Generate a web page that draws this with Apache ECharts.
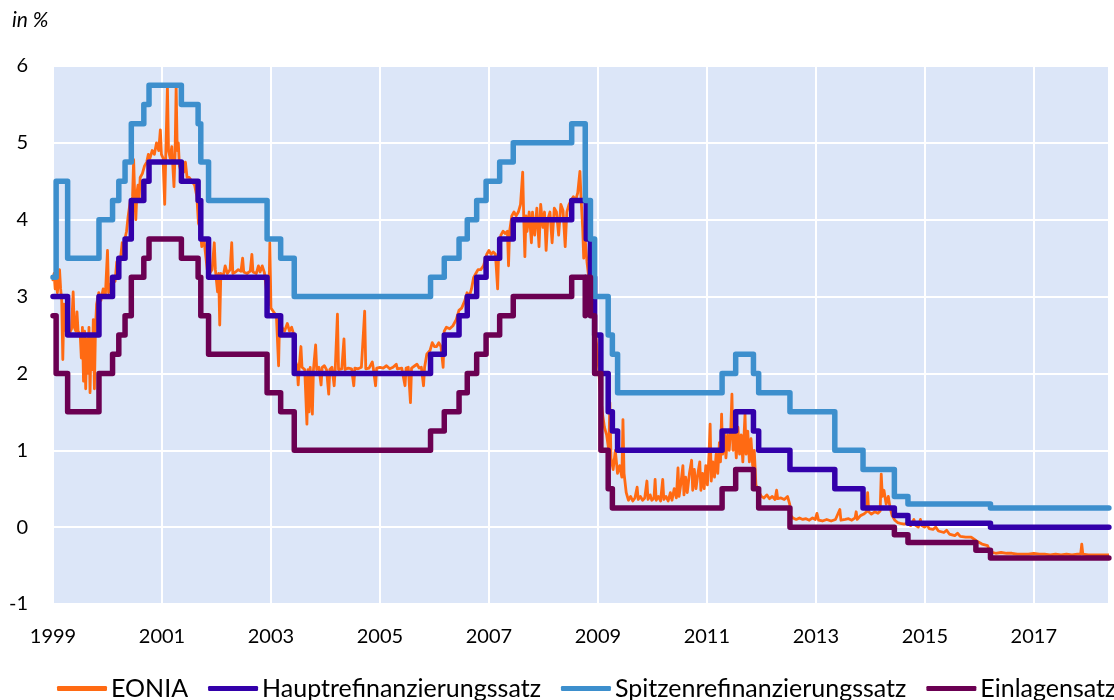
<!DOCTYPE html>
<html>
<head>
<meta charset="utf-8">
<script src="https://cdn.jsdelivr.net/npm/echarts@6/dist/echarts.min.js"></script>
<style>
html,body{margin:0;padding:0;background:#fff;}
#chart{width:1114px;height:700px;}
</style>
</head>
<body>
<div id="chart"></div>
<script>
// ---- Data ----
const startYear = 1999;
const endYear = 2018.38;
const xTickLabels = ['1999','2001','2003','2005','2007','2009','2011','2013','2015','2017'];
const seriesNames = ['EONIA','Hauptrefinanzierungssatz','Spitzenrefinanzierungssatz','Einlagensatz'];

// Hauptrefinanzierungssatz (change dates and new rates)
const mroDates = ['1999-01-01','1999-04-09','1999-11-05','2000-02-04','2000-03-17','2000-04-28','2000-06-09','2000-09-01','2000-10-06','2001-05-11','2001-08-31','2001-09-18','2001-11-09','2002-12-06','2003-03-07','2003-06-06','2005-12-06','2006-03-08','2006-06-15','2006-08-09','2006-10-11','2006-12-13','2007-03-14','2007-06-13','2008-07-09','2008-10-15','2008-11-12','2008-12-10','2009-01-21','2009-03-11','2009-04-08','2009-05-13','2011-04-13','2011-07-13','2011-11-09','2011-12-14','2012-07-11','2013-05-08','2013-11-13','2014-06-11','2014-09-10','2016-03-16','2018-05-19'];
const mroValues = [3.00,2.50,3.00,3.25,3.50,3.75,4.25,4.50,4.75,4.50,4.25,3.75,3.25,2.75,2.50,2.00,2.25,2.50,2.75,3.00,3.25,3.50,3.75,4.00,4.25,3.75,3.25,2.50,2.00,1.50,1.25,1.00,1.25,1.50,1.25,1.00,0.75,0.50,0.25,0.15,0.05,0.00,0.00];

// Spitzenrefinanzierungssatz
const slfDates = ['1999-01-01','1999-01-22','1999-04-09','1999-11-05','2000-02-04','2000-03-17','2000-04-28','2000-06-09','2000-09-01','2000-10-06','2001-05-11','2001-08-31','2001-09-18','2001-11-09','2002-12-06','2003-03-07','2003-06-06','2005-12-06','2006-03-08','2006-06-15','2006-08-09','2006-10-11','2006-12-13','2007-03-14','2007-06-13','2008-07-09','2008-10-08','2008-10-09','2008-11-12','2008-12-10','2009-03-11','2009-04-08','2009-05-13','2011-04-13','2011-07-13','2011-11-09','2011-12-14','2012-07-11','2013-05-08','2013-11-13','2014-06-11','2014-09-10','2016-03-16','2018-05-19'];
const slfValues = [3.25,4.50,3.50,4.00,4.25,4.50,4.75,5.25,5.50,5.75,5.50,5.25,4.75,4.25,3.75,3.50,3.00,3.25,3.50,3.75,4.00,4.25,4.50,4.75,5.00,5.25,4.75,4.25,3.75,3.00,2.50,2.25,1.75,2.00,2.25,2.00,1.75,1.50,1.00,0.75,0.40,0.30,0.25,0.25];

// Einlagensatz
const depDates = ['1999-01-01','1999-01-22','1999-04-09','1999-11-05','2000-02-04','2000-03-17','2000-04-28','2000-06-09','2000-09-01','2000-10-06','2001-05-11','2001-08-31','2001-09-18','2001-11-09','2002-12-06','2003-03-07','2003-06-06','2005-12-06','2006-03-08','2006-06-15','2006-08-09','2006-10-11','2006-12-13','2007-03-14','2007-06-13','2008-07-09','2008-10-08','2008-10-09','2008-11-12','2008-12-10','2009-01-21','2009-03-11','2009-04-08','2011-04-13','2011-07-13','2011-11-09','2011-12-14','2012-07-11','2014-06-11','2014-09-10','2015-12-09','2016-03-16','2018-05-19'];
const depValues = [2.75,2.00,1.50,2.00,2.25,2.50,2.75,3.25,3.50,3.75,3.50,3.25,2.75,2.25,1.75,1.50,1.00,1.25,1.50,1.75,2.00,2.25,2.50,2.75,3.00,3.25,2.75,3.25,2.75,2.00,1.00,0.50,0.25,0.50,0.75,0.50,0.25,0.00,-0.10,-0.20,-0.30,-0.40,-0.40];

// EONIA (decimal year, rate)
const eoniaPoints = [
[1999.00,3.20],[1999.02,3.30],[1999.04,3.10],[1999.06,3.25],[1999.08,3.05],[1999.10,3.20],[1999.12,3.35],[1999.14,3.10],[1999.16,2.95],[1999.18,2.18],[1999.20,2.90],[1999.22,2.70],[1999.24,2.55],[1999.28,2.60],[1999.30,2.52],[1999.34,2.58],[1999.37,3.06],[1999.39,2.60],[1999.42,2.55],[1999.44,2.80],[1999.46,2.55],[1999.50,2.50],[1999.52,2.20],[1999.54,2.60],[1999.56,1.90],[1999.58,2.55],[1999.60,1.80],[1999.62,2.45],[1999.64,2.00],[1999.66,2.60],[1999.68,1.75],[1999.70,2.50],[1999.72,2.05],[1999.74,2.70],[1999.76,1.80],[1999.78,2.60],[1999.80,2.90],[1999.84,3.05],[1999.88,2.95],[1999.92,3.10],[1999.96,3.00],
[2000.00,3.60],[2000.02,3.05],[2000.06,3.15],[2000.10,3.25],[2000.14,3.20],[2000.17,3.45],[2000.20,3.35],[2000.24,3.50],[2000.27,3.70],[2000.29,3.55],[2000.32,3.75],[2000.35,3.85],[2000.38,4.05],[2000.40,4.15],[2000.42,4.25],[2000.44,4.10],[2000.46,4.30],[2000.48,4.78],[2000.50,4.30],[2000.52,4.00],[2000.54,4.35],[2000.56,4.45],[2000.58,4.25],[2000.60,4.55],[2000.64,4.60],[2000.68,4.70],[2000.72,4.75],[2000.75,4.85],[2000.78,4.80],[2000.82,4.90],[2000.86,4.85],[2000.90,5.00],[2000.94,4.90],[2000.97,5.17],[2000.99,4.85],
[2001.02,4.80],[2001.05,4.20],[2001.07,4.85],[2001.10,5.73],[2001.12,4.90],[2001.15,4.80],[2001.18,4.95],[2001.22,4.43],[2001.24,4.85],[2001.26,5.73],[2001.28,4.90],[2001.30,5.00],[2001.32,4.70],[2001.36,4.60],[2001.40,4.62],[2001.43,4.75],[2001.46,4.55],[2001.50,4.55],[2001.55,4.50],[2001.60,4.45],[2001.64,4.30],[2001.67,3.95],[2001.70,3.90],[2001.73,3.65],[2001.77,3.75],[2001.80,3.55],[2001.83,3.35],[2001.87,3.30],[2001.92,3.35],[2001.96,3.70],[2001.98,3.35],
[2002.02,3.06],[2002.04,3.30],[2002.06,2.63],[2002.08,3.30],[2002.12,3.25],[2002.16,3.40],[2002.20,3.30],[2002.25,3.35],[2002.28,3.70],[2002.30,3.30],[2002.35,3.32],[2002.40,3.35],[2002.45,3.33],[2002.48,3.50],[2002.50,3.32],[2002.56,3.30],[2002.62,3.33],[2002.65,3.55],[2002.67,3.32],[2002.73,3.30],[2002.77,3.40],[2002.80,3.32],[2002.84,3.40],[2002.88,3.31],[2002.93,3.00],[2002.96,2.90],[2002.98,3.70],[2003.00,2.85],
[2003.05,2.80],[2003.10,2.75],[2003.14,2.10],[2003.16,2.75],[2003.20,2.60],[2003.25,2.55],[2003.30,2.65],[2003.34,2.55],[2003.38,2.60],[2003.42,2.50],[2003.45,2.15],[2003.48,2.10],[2003.50,1.85],[2003.52,2.10],[2003.55,2.35],[2003.57,2.08],[2003.62,2.05],[2003.66,1.34],[2003.68,2.05],[2003.70,1.50],[2003.72,2.08],[2003.76,1.47],[2003.78,2.05],[2003.82,2.37],[2003.84,2.05],[2003.88,2.08],[2003.92,1.85],[2003.94,2.08],[2003.98,2.10],
[2004.02,2.05],[2004.06,1.73],[2004.08,2.05],[2004.12,2.08],[2004.16,1.84],[2004.18,2.06],[2004.22,2.77],[2004.24,2.05],[2004.30,2.06],[2004.34,2.45],[2004.36,2.05],[2004.42,2.07],[2004.48,2.06],[2004.52,1.84],[2004.54,2.07],[2004.60,2.06],[2004.66,2.08],[2004.72,2.81],[2004.74,2.06],[2004.80,2.07],[2004.86,2.15],[2004.88,2.06],[2004.92,1.84],[2004.94,2.07],
[2005.00,2.08],[2005.06,2.07],[2005.12,2.10],[2005.18,2.06],[2005.24,2.08],[2005.30,2.12],[2005.32,2.06],[2005.40,2.07],[2005.46,1.84],[2005.48,2.07],[2005.52,2.08],[2005.56,1.62],[2005.58,2.07],[2005.64,2.10],[2005.68,2.12],[2005.72,2.07],[2005.76,2.08],[2005.80,1.84],[2005.82,2.08],[2005.86,2.25],[2005.92,2.30],[2005.96,2.40],
[2006.00,2.35],[2006.04,2.35],[2006.08,2.40],[2006.12,2.35],[2006.16,2.08],[2006.18,2.55],[2006.22,2.60],[2006.28,2.58],[2006.34,2.62],[2006.40,2.70],[2006.45,2.82],[2006.50,2.85],[2006.56,2.95],[2006.60,3.05],[2006.64,3.00],[2006.68,3.10],[2006.72,3.25],[2006.76,3.30],[2006.80,3.35],[2006.85,3.35],[2006.90,3.40],[2006.96,3.55],
[2007.00,3.60],[2007.04,3.55],[2007.08,3.58],[2007.12,3.55],[2007.16,3.10],[2007.18,3.60],[2007.22,3.80],[2007.26,3.85],[2007.30,3.82],[2007.34,3.85],[2007.36,3.40],[2007.38,3.85],[2007.42,4.05],[2007.46,4.10],[2007.50,4.05],[2007.54,4.10],[2007.58,4.20],[2007.62,4.62],[2007.64,4.00],[2007.66,3.52],[2007.68,4.05],[2007.70,3.85],[2007.74,4.10],[2007.78,3.70],[2007.80,4.10],[2007.84,3.80],[2007.88,4.15],[2007.92,3.65],[2007.95,4.20],[2007.99,3.90],
[2008.02,4.10],[2008.05,3.60],[2008.08,4.00],[2008.12,4.10],[2008.16,3.70],[2008.20,4.15],[2008.24,4.10],[2008.28,3.80],[2008.32,4.20],[2008.36,4.12],[2008.40,3.65],[2008.43,4.10],[2008.47,4.20],[2008.51,4.25],[2008.55,4.30],[2008.59,4.25],[2008.63,4.35],[2008.67,4.63],[2008.69,4.30],[2008.72,3.90],[2008.74,3.50],[2008.76,3.80],[2008.80,3.45],[2008.84,3.20],[2008.88,3.30],[2008.92,2.90],[2008.96,2.50],
[2009.00,2.20],[2009.04,1.80],[2009.08,1.50],[2009.12,1.30],[2009.16,1.20],[2009.20,1.00],[2009.22,1.62],[2009.24,0.90],[2009.28,0.75],[2009.32,1.00],[2009.36,0.70],[2009.40,0.80],[2009.44,0.65],[2009.46,1.40],[2009.48,0.70],[2009.52,0.45],[2009.56,0.35],[2009.60,0.40],[2009.64,0.34],[2009.68,0.38],[2009.72,0.52],[2009.74,0.36],[2009.78,0.40],[2009.82,0.35],[2009.86,0.38],[2009.90,0.60],[2009.92,0.36],[2009.96,0.42],[2009.99,0.35],
[2010.03,0.38],[2010.05,0.62],[2010.07,0.35],[2010.11,0.40],[2010.15,0.34],[2010.19,0.62],[2010.21,0.36],[2010.25,0.40],[2010.29,0.34],[2010.33,0.45],[2010.36,0.35],[2010.40,0.50],[2010.44,0.38],[2010.47,0.77],[2010.49,0.40],[2010.52,0.55],[2010.56,0.80],[2010.58,0.42],[2010.61,0.65],[2010.64,0.45],[2010.68,0.70],[2010.72,0.87],[2010.74,0.48],[2010.77,0.75],[2010.80,0.50],[2010.84,0.72],[2010.87,0.85],[2010.89,0.48],[2010.92,0.70],[2010.95,0.50],[2010.98,0.80],
[2011.01,0.55],[2011.04,0.95],[2011.06,1.34],[2011.08,0.60],[2011.11,0.85],[2011.14,0.65],[2011.17,0.95],[2011.20,0.70],[2011.23,1.10],[2011.25,0.85],[2011.27,1.47],[2011.29,0.95],[2011.32,1.25],[2011.35,0.90],[2011.38,1.20],[2011.41,1.00],[2011.44,1.30],[2011.46,1.73],[2011.48,1.00],[2011.51,1.25],[2011.54,0.90],[2011.57,1.30],[2011.60,0.95],[2011.63,1.20],[2011.66,0.85],[2011.70,1.47],[2011.72,0.95],[2011.75,1.25],[2011.78,0.85],[2011.81,1.15],[2011.84,0.80],[2011.87,1.00],[2011.90,0.55],[2011.93,0.50],[2011.96,0.45],
[2012.00,0.40],[2012.05,0.38],[2012.10,0.42],[2012.15,0.37],[2012.20,0.40],[2012.25,0.36],[2012.28,0.48],[2012.30,0.37],[2012.36,0.38],[2012.42,0.36],[2012.48,0.40],[2012.52,0.30],[2012.54,0.15],[2012.58,0.12],[2012.64,0.10],[2012.70,0.12],[2012.76,0.10],[2012.82,0.11],[2012.88,0.09],[2012.94,0.12],[2012.99,0.10],
[2013.02,0.18],[2013.05,0.09],[2013.12,0.08],[2013.20,0.10],[2013.28,0.08],[2013.36,0.10],[2013.44,0.23],[2013.46,0.09],[2013.54,0.10],[2013.60,0.11],[2013.66,0.09],[2013.72,0.12],[2013.74,0.20],[2013.76,0.10],[2013.82,0.15],[2013.88,0.17],[2013.93,0.20],[2013.95,0.45],[2013.97,0.20],
[2014.02,0.17],[2014.08,0.20],[2014.14,0.18],[2014.18,0.21],[2014.20,0.69],[2014.22,0.40],[2014.25,0.48],[2014.29,0.30],[2014.33,0.40],[2014.36,0.26],[2014.40,0.15],[2014.45,0.09],[2014.50,0.06],[2014.55,0.05],[2014.62,0.04],[2014.68,0.05],[2014.74,0.02],[2014.80,0.10],[2014.82,0.03],[2014.88,0.00],[2014.92,0.10],[2014.94,0.02],
[2015.00,0.00],[2015.04,0.03],[2015.08,-0.02],[2015.15,-0.03],[2015.20,0.00],[2015.25,-0.05],[2015.35,-0.07],[2015.40,-0.04],[2015.45,-0.09],[2015.55,-0.11],[2015.60,-0.08],[2015.65,-0.12],[2015.75,-0.13],[2015.85,-0.13],[2015.95,-0.18],
[2016.05,-0.22],[2016.15,-0.24],[2016.20,-0.32],[2016.30,-0.34],[2016.40,-0.33],[2016.50,-0.34],[2016.60,-0.34],[2016.70,-0.35],[2016.80,-0.35],[2016.90,-0.35],
[2017.00,-0.34],[2017.10,-0.35],[2017.20,-0.35],[2017.30,-0.36],[2017.40,-0.35],[2017.50,-0.36],[2017.60,-0.35],[2017.70,-0.36],[2017.80,-0.35],[2017.86,-0.35],[2017.88,-0.22],[2017.90,-0.35],
[2018.00,-0.36],[2018.10,-0.36],[2018.20,-0.36],[2018.30,-0.36],[2018.38,-0.36]
];

// ---- Helpers ----
function toYear(s) {
  const p = s.split('-').map(Number);
  const t0 = Date.UTC(p[0], 0, 1), t1 = Date.UTC(p[0] + 1, 0, 1);
  return p[0] + (Date.UTC(p[0], p[1] - 1, p[2]) - t0) / (t1 - t0);
}
function stepData(dates, values) {
  return dates.map((d, i) => [toYear(d) - startYear, values[i]]);
}

const colors = ['#FF6A13', '#3300AA', '#3D8FCD', '#6B0052'];

const chart = echarts.init(document.getElementById('chart'), null, {renderer: 'canvas'});
const fontFamily = 'Lato, "Open Sans", sans-serif';

chart.setOption({
  animation: false,
  backgroundColor: '#ffffff',
  title: {
    text: 'in %', left: 7, top: 5,
    textStyle: {fontSize: 21, fontStyle: 'italic', fontWeight: 'normal', color: '#000', fontFamily: fontFamily}
  },
  legend: {
    data: seriesNames,
    left: 57, top: 676, width: 1300,
    itemWidth: 50, itemHeight: 5, itemGap: 20, padding: 0,
    icon: 'roundRect',
    textStyle: {fontSize: 25, color: '#000', fontFamily: fontFamily, padding: [0, 0, 0, -1]}
  },
  grid: {
    left: 53, right: 5, top: 66, bottom: 96,
    show: true, backgroundColor: '#DCE6F8', borderWidth: 0
  },
  xAxis: {
    type: 'value', min: 0, max: endYear - startYear, interval: 2,
    axisLine: {show: false}, axisTick: {show: false},
    splitLine: {show: true, lineStyle: {color: '#ffffff', width: 2}},
    axisLabel: {
      fontSize: 20, color: '#000', fontFamily: fontFamily, margin: 23,
      showMaxLabel: false,
      formatter: function (v) {
        const r = Math.round(v);
        if (Math.abs(v - r) > 1e-6 || r % 2 !== 0) return '';
        const lbl = String(startYear + r);
        return xTickLabels.indexOf(lbl) >= 0 ? lbl : '';
      }
    }
  },
  yAxis: {
    type: 'value', min: -1, max: 6, interval: 1,
    axisLine: {show: false}, axisTick: {show: false},
    splitLine: {show: true, lineStyle: {color: '#ffffff', width: 2}},
    axisLabel: {fontSize: 20, color: '#000', fontFamily: fontFamily, margin: 25}
  },
  series: [
    {
      name: seriesNames[0], type: 'line', symbol: 'none', color: colors[0],
      data: eoniaPoints.map(p => [p[0] - startYear, p[1]]),
      lineStyle: {width: 2.8, join: 'round'}, z: 2
    },
    {
      name: seriesNames[1], type: 'line', step: 'end', symbol: 'none', color: colors[1],
      data: stepData(mroDates, mroValues),
      lineStyle: {width: 5.5, join: 'round', cap: 'round'}, z: 3
    },
    {
      name: seriesNames[2], type: 'line', step: 'end', symbol: 'none', color: colors[2],
      data: stepData(slfDates, slfValues),
      lineStyle: {width: 5.5, join: 'round', cap: 'round'}, z: 3
    },
    {
      name: seriesNames[3], type: 'line', step: 'end', symbol: 'none', color: colors[3],
      data: stepData(depDates, depValues),
      lineStyle: {width: 5.5, join: 'round', cap: 'round'}, z: 3
    }
  ]
});
</script>
</body>
</html>
